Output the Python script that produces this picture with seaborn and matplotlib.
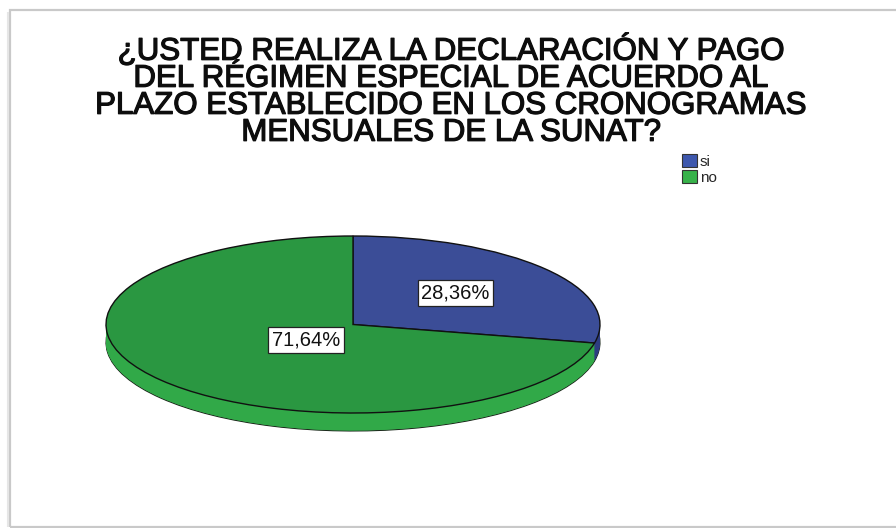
import matplotlib
matplotlib.use("Agg")
import matplotlib.pyplot as plt
import matplotlib.patheffects as pe
from matplotlib.patches import Rectangle, Patch
import seaborn as sns

# Survey answers and their shares (%)
categories = ["si", "no"]
shares = [28.36, 71.64]
title = ("¿USTED REALIZA LA DECLARACIÓN Y PAGO\n"
         "DEL RÉGIMEN ESPECIAL DE ACUERDO AL\n"
         "PLAZO ESTABLECIDO EN LOS CRONOGRAMAS\n"
         "MENSUALES DE LA SUNAT?")

top_colors = ["#3b4d97", "#2a9741"]
side_colors = ["#2d3c80", "#31a948"]
legend_colors = ["#3d57ad", "#37b24a"]

sns.set_theme(style="white")
plt.rcParams["font.family"] = ["Liberation Sans", "DejaVu Sans"]

W, H, DPI = 896, 528, 100
fig = plt.figure(figsize=(W / DPI, H / DPI), dpi=DPI)
fig.patch.set_facecolor("white")
ax = fig.add_axes([0, 0, 1, 1])

# geometry of the tilted pie, in pixels
cx, cy, rx, ry, depth_px = 353, 324.5, 247, 88.5, 18
depth = depth_px / ry

pie_kw = dict(startangle=90, counterclock=False)

# side of the disc: stacked copies shifted downwards
n_layers = 40
ax.pie(shares, colors=side_colors, center=(0, -depth),
       wedgeprops=dict(edgecolor="#1d2a1d", linewidth=0.8), **pie_kw)
for i in range(1, n_layers):
    off = -depth + depth * i / n_layers
    ax.pie(shares, colors=side_colors, center=(0, off),
           wedgeprops=dict(edgecolor="none", linewidth=0), **pie_kw)

# top face with percentage labels
wedges, texts, autotexts = ax.pie(
    shares, colors=top_colors, center=(0, 0),
    wedgeprops=dict(edgecolor="#111111", linewidth=1.0),
    autopct=lambda p: f"{p:.2f}%".replace(".", ","),
    pctdistance=0.55, **pie_kw)
for t in autotexts:
    t.set_fontsize(14.5)
    t.set_color("#111111")
    t.set_bbox(dict(boxstyle="square,pad=0.18", facecolor="white",
                    edgecolor="#222222", linewidth=0.9))
# label of the large slice sits close to the centre
autotexts[1].set_position((-0.19, -0.175))
autotexts[0].set_position((0.415, 0.36))

# stretch the disc into an ellipse
ax.set_aspect("auto")
ax.set_xlim(-cx / rx, (W - cx) / rx)
ax.set_ylim(-(H - cy) / ry, cy / ry)
ax.axis("off")

# title, slightly thickened strokes
fig.text(451 / W, 1 - 91 / H, title, ha="center", va="center",
         fontsize=22.5, color="#0d0d0d", linespacing=0.87,
         path_effects=[pe.withStroke(linewidth=0.9, foreground="#0d0d0d")])

# legend
handles = [Patch(facecolor=c, edgecolor="#333333", linewidth=0.8)
           for c in legend_colors]
fig.legend(handles, categories, loc="upper left",
           bbox_to_anchor=(682 / W, 1 - 154 / H), frameon=False,
           fontsize=11, handlelength=0.95, handleheight=0.9,
           handletextpad=0.2, labelspacing=0.12, borderpad=0,
           borderaxespad=0)

# outer frame
fig.patches.append(Rectangle((10 / W, 1 / H), 1.05, (527 - 10) / H,
                             transform=fig.transFigure, fill=False,
                             edgecolor="#c9c9c9", linewidth=1.6))
fig.patches.append(Rectangle((8 / W, 1 / H), 0.0, (527 - 12) / H,
                             transform=fig.transFigure, fill=False,
                             edgecolor="#e6e6e6", linewidth=1.5))

fig.savefig("out.png", dpi=DPI, facecolor="white")
